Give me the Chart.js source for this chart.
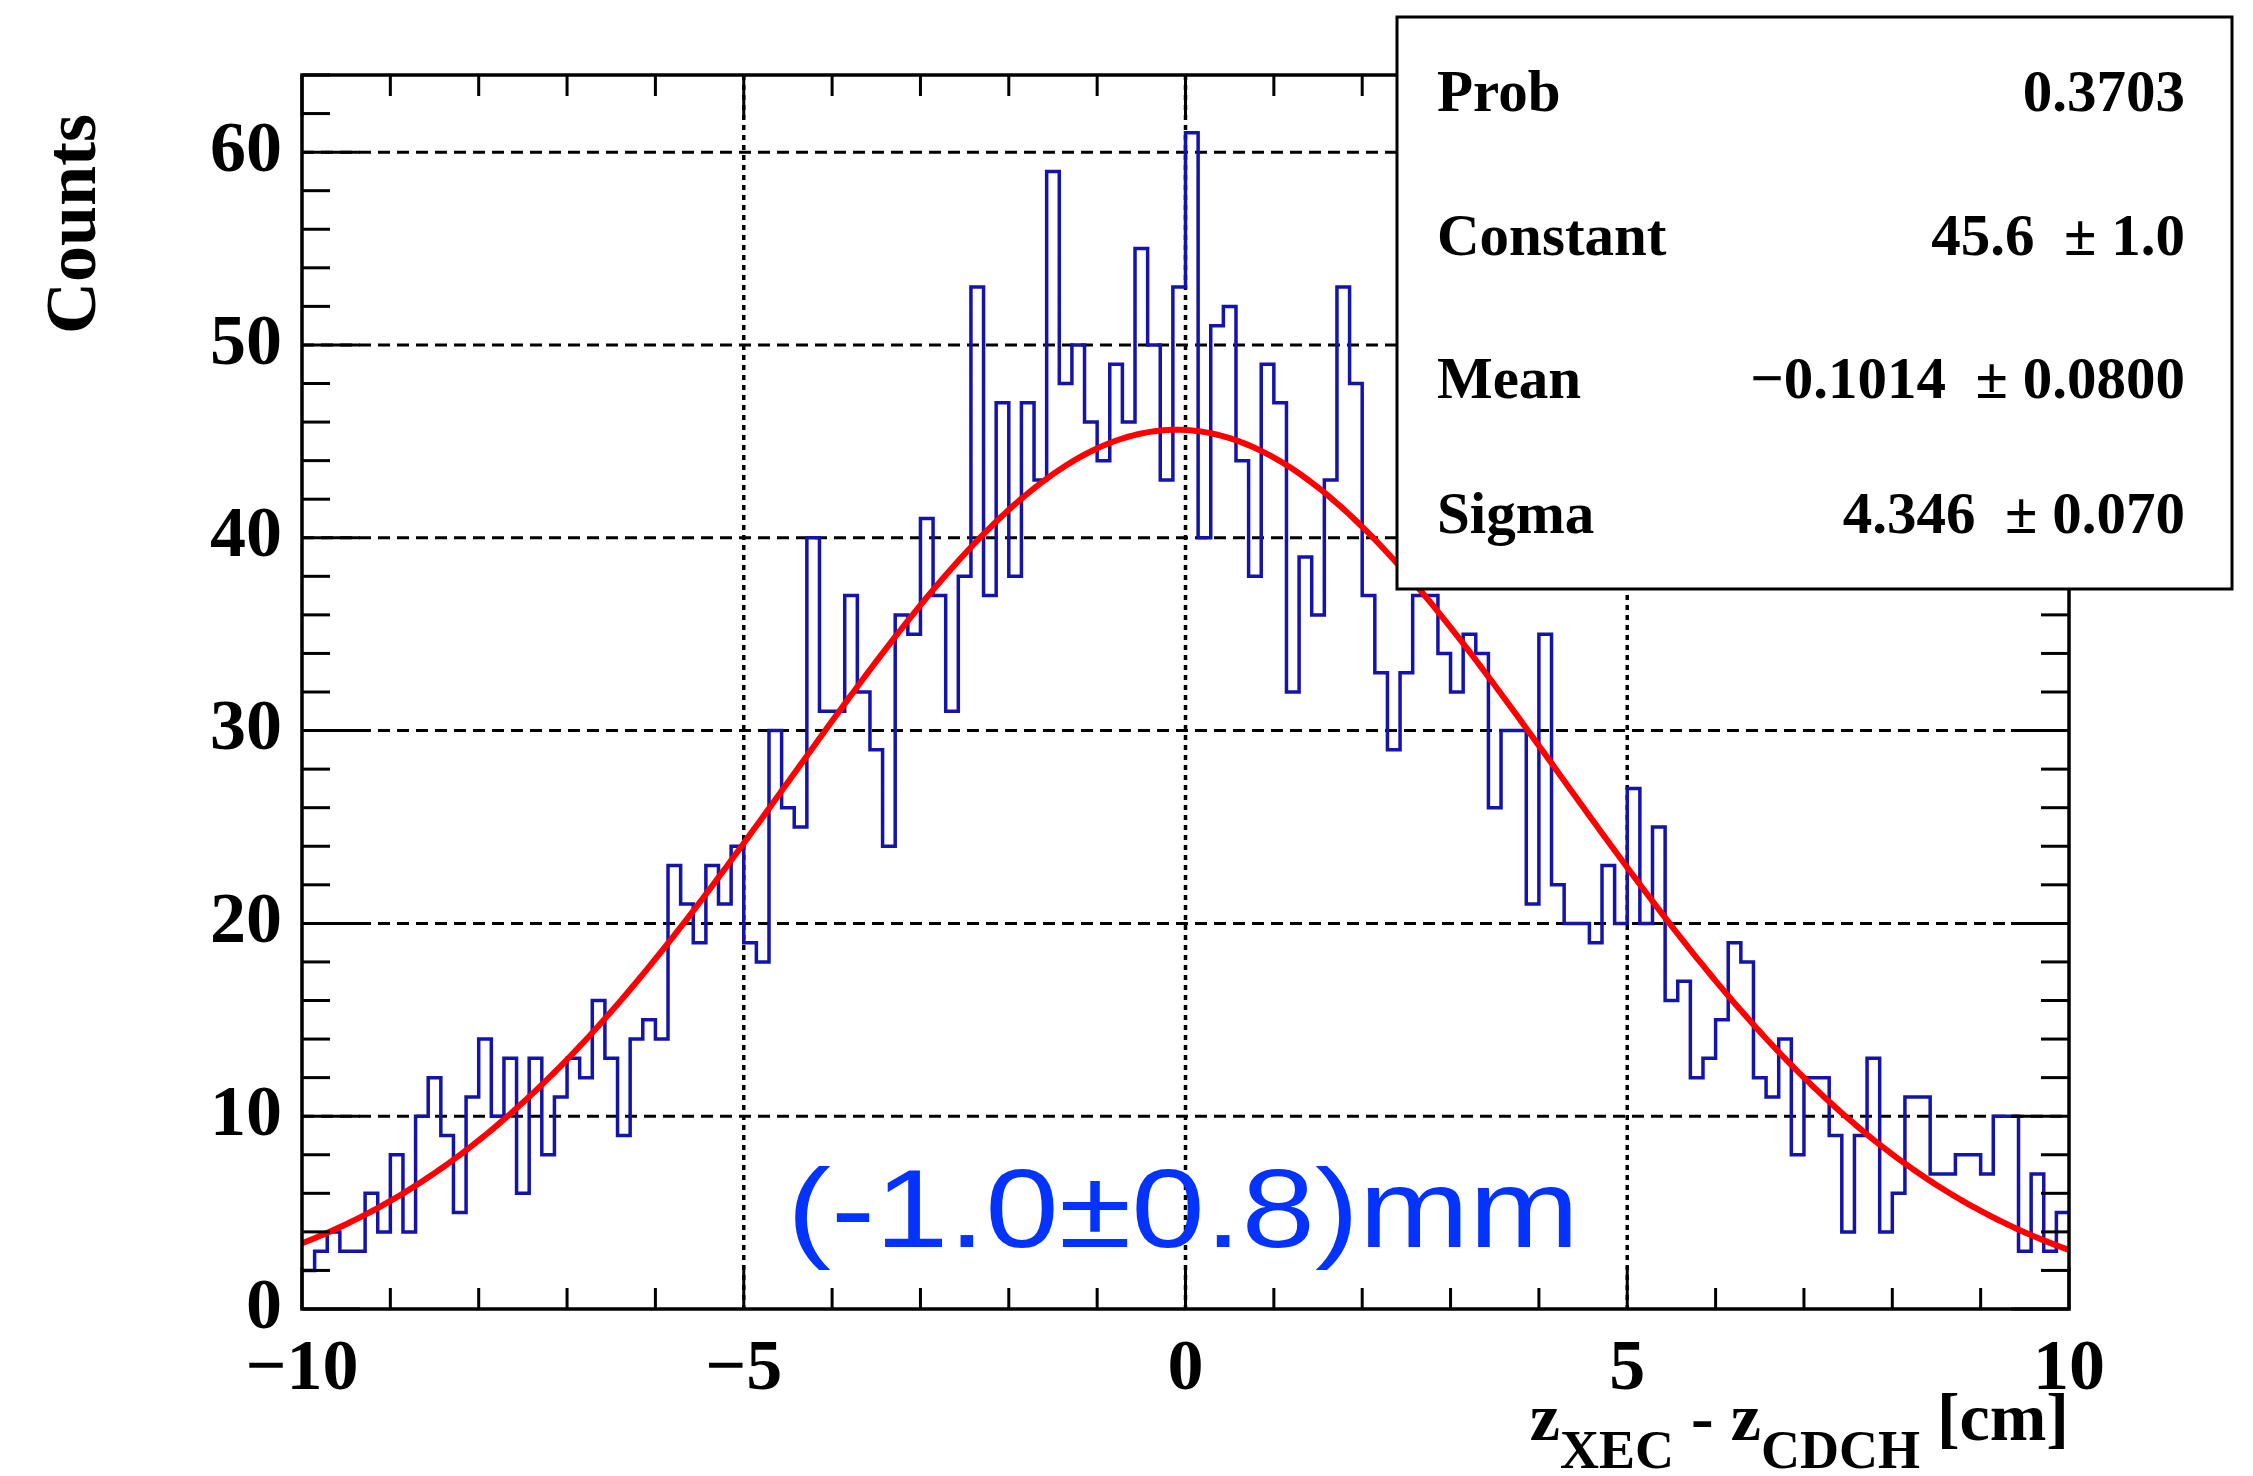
<!DOCTYPE html>
<html>
<head>
<meta charset="utf-8">
<script src="https://cdn.jsdelivr.net/npm/chart.js@4.4.1/dist/chart.umd.min.js"></script>
<style>
  html, body { margin: 0; padding: 0; background: #fff; }
  #wrap { width: 2253px; height: 1476px; }
</style>
</head>
<body>
<div id="wrap"><canvas id="zChart" width="2253" height="1476"></canvas></div>
<script>
// bin contents (140 bins of 1/7 cm between -10 and 10)
const countsNeg10ToNeg5 = [2, 3, 4, 3, 3, 6, 4, 8, 4, 10, 12, 9, 5, 11, 14, 10, 13, 6, 13, 8, 11, 13, 12, 16, 13, 9, 14, 15, 14, 23, 21, 19, 23, 21, 24];
const countsNeg5To0 = [19, 18, 30, 26, 25, 40, 31, 31, 37, 32, 29, 24, 36, 35, 41, 37, 31, 38, 53, 37, 47, 38, 47, 43, 59, 48, 50, 46, 44, 49, 46, 55, 50, 43, 53];
const counts0To5 = [61, 40, 51, 52, 44, 38, 49, 47, 32, 39, 36, 43, 53, 48, 37, 33, 29, 33, 37, 37, 34, 32, 35, 34, 26, 30, 30, 21, 35, 22, 20, 20, 19, 23, 20];
const counts5To10 = [27, 20, 25, 16, 17, 12, 13, 15, 19, 18, 12, 11, 14, 8, 12, 12, 9, 4, 9, 13, 4, 6, 11, 11, 7, 7, 8, 8, 7, 10, 10, 3, 7, 3, 5];

const xMin = -10, xMax = 10;
const yMin = 0, yMax = 64;
const xTicks = [-10, -5, 0, 5, 10];
const yTicks = [0, 10, 20, 30, 40, 50, 60];

// gaussian fit parameters from the stats box
const fitConstant = 45.6;
const fitMean = -0.1014;
const fitSigma = 4.346;

const statNames = ['Prob', 'Constant', 'Mean', 'Sigma'];
const statValues = ['0.3703', '45.6  \u00b1 1.0', '\u22120.1014  \u00b1 0.0800', '4.346  \u00b1 0.070'];
const noteText = '(-1.0\u00b10.8)mm';

const counts = [].concat(countsNeg10ToNeg5, countsNeg5To0, counts0To5, counts5To10);
const binWidth = (xMax - xMin) / counts.length;
const histPoints = counts.map((c, i) => ({ x: xMin + i * binWidth, y: c }));
histPoints.push({ x: xMax, y: counts[counts.length - 1] });

const fitPoints = [];
for (let i = 0; i <= 400; i++) {
    const x = xMin + i * (xMax - xMin) / 400;
    fitPoints.push({ x: x, y: fitConstant * Math.exp(-0.5 * Math.pow((x - fitMean) / fitSigma, 2)) });
}

const serif = '"Liberation Serif", "Times New Roman", serif';

function seg(ctx, x1, y1, x2, y2) {
    ctx.beginPath();
    ctx.moveTo(x1, y1);
    ctx.lineTo(x2, y2);
    ctx.stroke();
}

const rootFrame = {
    id: 'rootFrame',
    beforeDatasetsDraw(chart) {
        const { ctx, chartArea: a, scales: { x, y } } = chart;
        ctx.save();
        ctx.strokeStyle = '#000';
        ctx.lineWidth = 3;
        ctx.setLineDash([12, 7]);
        yTicks.forEach(v => {
            if (v === yMin) return;
            const py = y.getPixelForValue(v);
            seg(ctx, a.left, py, a.right, py);
        });
        ctx.lineWidth = 3.5;
        ctx.setLineDash([5, 5]);
        xTicks.forEach(v => {
            if (v === xMin || v === xMax) return;
            const px = x.getPixelForValue(v);
            seg(ctx, px, a.top, px, a.bottom);
        });
        ctx.restore();
    },
    afterDatasetsDraw(chart) {
        const { ctx, chartArea: a, scales: { x, y } } = chart;
        ctx.save();
        ctx.strokeStyle = '#000';
        ctx.lineWidth = 3;
        ctx.setLineDash([]);

        // tick marks on all four sides
        for (let v = xMin; v <= xMax; v++) {
            const px = x.getPixelForValue(v);
            const len = v % 5 === 0 ? 42 : 21;
            seg(ctx, px, a.bottom, px, a.bottom - len);
            seg(ctx, px, a.top, px, a.top + len);
        }
        for (let v = yMin; v <= yMax; v += 2) {
            const py = y.getPixelForValue(v);
            const len = v % 10 === 0 ? 58 : 28;
            seg(ctx, a.left, py, a.left + len, py);
            seg(ctx, a.right, py, a.right - len, py);
        }
        ctx.lineWidth = 3.5;
        ctx.strokeRect(a.left, a.top, a.right - a.left, a.bottom - a.top);

        // blue note
        ctx.save();
        ctx.fillStyle = '#0433ff';
        ctx.font = '112px "Liberation Sans", Arial, sans-serif';
        ctx.textBaseline = 'alphabetic';
        ctx.translate(787, 1247);
        ctx.scale(1.18, 1);
        ctx.fillText(noteText, 0, 0);
        ctx.restore();

        // stats box
        const bx = 1397, by = 17, bw = 2232 - 1397, bh = 589 - 17;
        ctx.fillStyle = '#fff';
        ctx.fillRect(bx, by, bw, bh);
        ctx.lineWidth = 3;
        ctx.strokeRect(bx, by, bw, bh);
        ctx.fillStyle = '#000';
        ctx.font = 'bold 59px ' + serif;
        const rowBase = [111, 255, 398, 533];
        statNames.forEach((name, i) => {
            ctx.textAlign = 'left';
            ctx.fillText(name, 1437, rowBase[i]);
            ctx.textAlign = 'right';
            ctx.fillText(statValues[i], 2185, rowBase[i]);
        });

        // x title with subscripts, right aligned to the axis end
        const parts = [
            { t: 'z', sub: false }, { t: 'XEC', sub: true }, { t: ' - ', sub: false },
            { t: 'z', sub: false }, { t: 'CDCH', sub: true }, { t: ' [cm]', sub: false }
        ];
        const mainFont = 'bold 68px ' + serif;
        const subFont = 'bold 54px ' + serif;
        let total = 0;
        parts.forEach(p => {
            ctx.font = p.sub ? subFont : mainFont;
            p.w = ctx.measureText(p.t).width;
            total += p.w;
        });
        let cx = a.right - total;
        ctx.textAlign = 'left';
        parts.forEach(p => {
            ctx.font = p.sub ? subFont : mainFont;
            ctx.fillText(p.t, cx, p.sub ? 1468 : 1440);
            cx += p.w;
        });

        // y title
        ctx.save();
        ctx.translate(95, 224);
        ctx.rotate(-Math.PI / 2);
        ctx.font = 'bold 72px ' + serif;
        ctx.textAlign = 'center';
        ctx.fillText('Counts', 0, 0);
        ctx.restore();

        ctx.restore();
    }
};

const tickFont = { family: serif, size: 72, weight: 'bold' };

new Chart(document.getElementById('zChart').getContext('2d'), {
    type: 'line',
    data: {
        datasets: [{
            label: 'gaus fit',
            data: fitPoints,
            borderColor: '#ff0000',
            borderWidth: 6,
            borderCapStyle: 'round',
            pointRadius: 0,
            tension: 0,
            fill: false,
            order: 0
        }, {
            label: 'z_XEC - z_CDCH',
            data: histPoints,
            borderColor: '#1414a8',
            borderWidth: 3.5,
            stepped: true,
            pointRadius: 0,
            fill: false,
            order: 1
        }]
    },
    options: {
        responsive: false,
        animation: false,
        devicePixelRatio: 1,
        layout: { padding: { left: 0, right: 184, top: 75, bottom: 0 } },
        plugins: { legend: { display: false }, tooltip: { enabled: false } },
        scales: {
            x: {
                type: 'linear',
                min: xMin,
                max: xMax,
                grid: { display: false },
                border: { display: false },
                afterBuildTicks: s => { s.ticks = xTicks.map(v => ({ value: v })); },
                afterFit: s => { s.height = 167; },
                ticks: {
                    color: '#000',
                    font: tickFont,
                    padding: 10,
                    maxRotation: 0,
                    autoSkip: false,
                    callback: v => v < 0 ? '\u2212' + Math.abs(v) : String(v)
                }
            },
            y: {
                type: 'linear',
                min: yMin,
                max: yMax,
                grid: { display: false },
                border: { display: false },
                afterBuildTicks: s => { s.ticks = yTicks.map(v => ({ value: v })); },
                afterFit: s => { s.width = 302; },
                ticks: {
                    color: '#000',
                    font: tickFont,
                    padding: 12,
                    autoSkip: false
                }
            }
        }
    },
    plugins: [rootFrame]
});
</script>
</body>
</html>
